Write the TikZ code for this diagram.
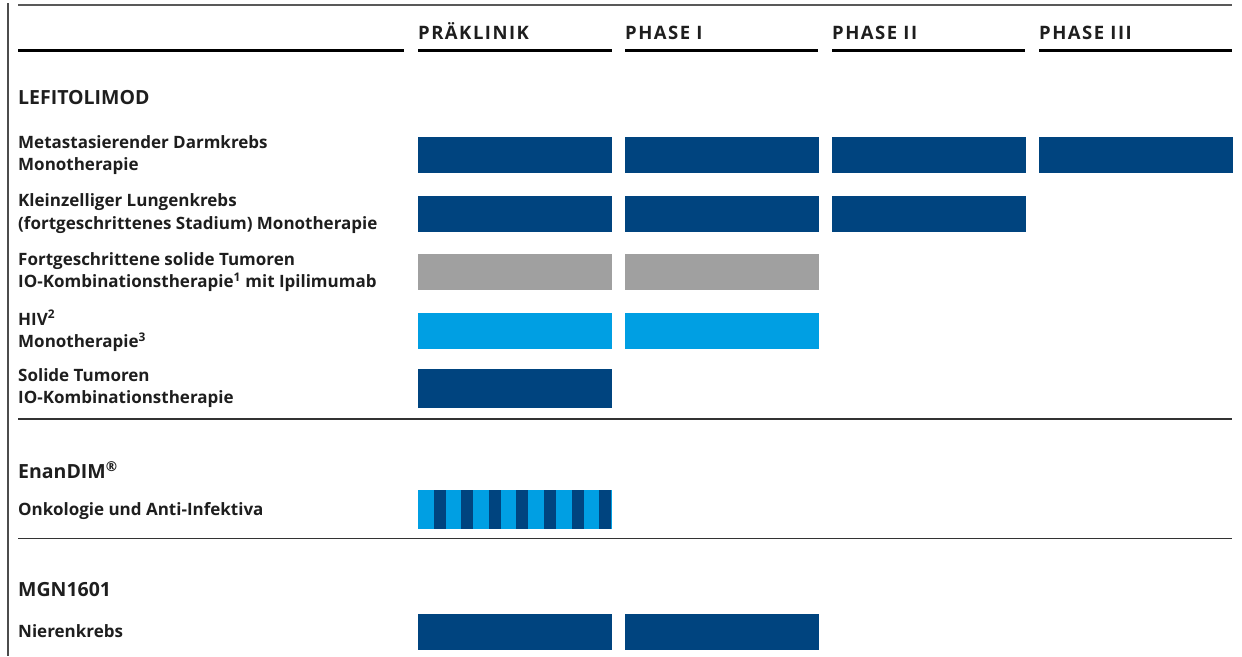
\documentclass[tikz,border=0pt]{standalone}
\usepackage{fontspec}
\setmainfont{Open Sans}
\newfontfamily\hdrfont[LetterSpace=8]{Open Sans}
\definecolor{dkblue}{HTML}{00447F}
\definecolor{ltblue}{HTML}{009FE3}
\definecolor{grbar}{HTML}{A0A0A0}
\definecolor{txt}{HTML}{1E1E1E}
\begin{document}
\begin{tikzpicture}[x=1pt,y=-1pt,
  lbl/.style={anchor=west, align=left, inner sep=0pt, text=txt, font=\fontsize{17}{22.5}\selectfont\bfseries},
  grp/.style={anchor=west, inner sep=0pt, text=txt, font=\fontsize{19.5}{22}\selectfont\bfseries},
  hdr/.style={anchor=base west, inner sep=0pt, text=txt, font=\fontsize{18.5}{20}\selectfont\hdrfont\bfseries},
  bar/.style={fill=#1, minimum width=194pt, minimum height=36pt, inner sep=0pt, draw=none},
  hline/.style={line width=3pt, black},
  sep/.style={line width=1.8pt, black!80},
  topl/.style={line width=1.5pt, black!65}]
\useasboundingbox (0,0) rectangle (1242,656);
% frame lines
\coordinate (vt) at (8,3);
\coordinate (vb) at (8,656);
\draw[line width=1.5pt, black!70] (vt) -- (vb);
\coordinate (tl) at (18,5);
\coordinate (tr) at (1232,5);
\draw[topl] (tl) -- (tr);
% header underlines
\foreach \a/\b [count=\i] in {18/404,418/612,625/818,832/1025,1039/1232}{
  \coordinate (ua\i) at (\a,50);
  \coordinate (ub\i) at (\b,50);
  \draw[hline] (ua\i) -- (ub\i);
}
% headers
\node[hdr] (h1) at (418,39) {PRÄKLINIK};
\node[hdr] (h2) at (625,39) {PHASE I};
\node[hdr] (h3) at (832,39) {PHASE II};
\node[hdr] (h4) at (1039,39) {PHASE III};
% group LEFITOLIMOD
\node[grp] (g1) at (18,98) {LEFITOLIMOD};
\node[lbl] (l1) at (18,155) {Metastasierender Darmkrebs\\Monotherapie};
\node[lbl] (l2) at (18,213.5) {Kleinzelliger Lungenkrebs\\(fortgeschrittenes Stadium) Monotherapie};
\node[lbl] (l3) at (18,272) {Fortgeschrittene solide Tumoren\\IO-Kombinationstherapie\textsuperscript{1} mit Ipilimumab};
\node[lbl] (l4) at (18,331) {HIV\textsuperscript{2}\\Monotherapie\textsuperscript{3}};
\node[lbl] (l5) at (18,388) {Solide Tumoren\\IO-Kombinationstherapie};
% bars row1
\node[bar=dkblue] (b11) at (515,155) {};
\node[bar=dkblue] (b12) at (721.5,155) {};
\node[bar=dkblue] (b13) at (928.5,155) {};
\node[bar=dkblue] (b14) at (1135.5,155) {};
% row2
\node[bar=dkblue] (b21) at (515,213.5) {};
\node[bar=dkblue] (b22) at (721.5,213.5) {};
\node[bar=dkblue] (b23) at (928.5,213.5) {};
% row3
\node[bar=grbar] (b31) at (515,271.5) {};
\node[bar=grbar] (b32) at (721.5,271.5) {};
% row4
\node[bar=ltblue] (b41) at (515,330.5) {};
\node[bar=ltblue] (b42) at (721.5,330.5) {};
% row5
\node[bar=dkblue, minimum height=39pt] (b51) at (515,388.5) {};
% separator
\coordinate (s1a) at (18,419);
\coordinate (s1b) at (1232,419);
\draw[sep] (s1a) -- (s1b);
% EnanDIM
\node[grp] (g2) at (18,470) {EnanDIM\textsuperscript{®}};
\node[lbl] (l6) at (18,511) {Onkologie und Anti-Infektiva};
\node[bar=ltblue, minimum height=39pt] (e1) at (515,509.5) {};
\foreach \i in {0,...,6}{
  \fill[dkblue] ({418+15.6+27.6*\i},490) rectangle ++(12,39);
}
\coordinate (s2a) at (18,538.5);
\coordinate (s2b) at (1232,538.5);
\draw[sep] (s2a) -- (s2b);
% MGN1601
\node[grp] (g3) at (18,590) {MGN1601};
\node[lbl] (l7) at (18,631) {Nierenkrebs};
\node[bar=dkblue] (b71) at (515,632) {};
\node[bar=dkblue] (b72) at (721.5,632) {};
\end{tikzpicture}
\end{document}
